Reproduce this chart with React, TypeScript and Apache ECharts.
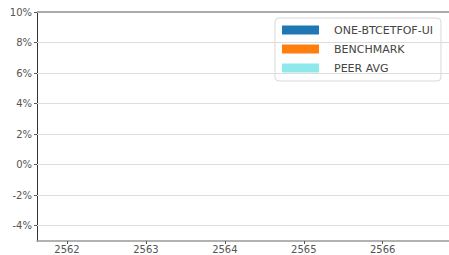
import React, { useEffect, useRef } from "react";
import * as echarts from "echarts";

const seriesNames = ["ONE-BTCETFOF-UI", "BENCHMARK", "PEER AVG"];
const seriesColors = ["#1f77b4", "#ff7f0e", "#8fe9ea"];
const xTicks = [2562, 2563, 2564, 2565, 2566];
const xMin = 2561.62;
const xMax = 2566.84;
const yTicks = [-4, -2, 0, 2, 4, 6, 8, 10];
const yMin = -5;
const yMax = 10;

export default function App() {
  const ref = useRef<HTMLDivElement>(null);
  useEffect(() => {
    document.body.style.margin = "0";
    const chart = echarts.init(ref.current!, undefined, { renderer: "svg" });
    chart.setOption({
      animation: false,
      backgroundColor: "#ffffff",
      grid: { left: 37, top: 12, right: 0, bottom: 14, containLabel: false },
      legend: {
        left: 275,
        top: 18,
        orient: "vertical",
        icon: "rect",
        itemWidth: 37,
        itemHeight: 9,
        itemGap: 7,
        padding: [6, 8, 7, 7],
        borderColor: "#d8d8d8",
        borderWidth: 1,
        borderRadius: 4,
        backgroundColor: "#ffffff",
        textStyle: {
          fontFamily: "DejaVu Sans",
          fontSize: 11,
          color: "#444",
          padding: [0, 0, 0, 10],
          lineHeight: 12,
        },
        data: seriesNames,
      },
      xAxis: {
        type: "value",
        min: xMin,
        max: xMax,
        axisLine: { show: true, onZero: false, lineStyle: { color: "#999", width: 1.5 } },
        axisTick: {
          show: true,
          length: 3,
          customValues: xTicks,
          lineStyle: { color: "#555" },
        },
        axisLabel: {
          customValues: xTicks,
          fontFamily: "DejaVu Sans",
          fontSize: 10,
          color: "#555",
          margin: 3,
          formatter: (v: number) => String(Math.round(v)),
        },
        splitLine: { show: false },
      },
      yAxis: {
        type: "value",
        min: yMin,
        max: yMax,
        axisLine: { show: true, onZero: false, lineStyle: { color: "#333", width: 1 } },
        axisTick: {
          show: true,
          length: 3,
          customValues: yTicks,
          lineStyle: { color: "#555" },
        },
        axisLabel: {
          customValues: yTicks,
          fontFamily: "DejaVu Sans",
          fontSize: 10,
          color: "#555",
          margin: 5,
          formatter: (v: number) => `${v}%`,
        },
        splitLine: { show: false },
      },
      series: [
        ...seriesNames.map((name, i) => ({
          name,
          type: "bar",
          data: [],
          itemStyle: { color: seriesColors[i] },
        })),
        {
          type: "line",
          data: [],
          silent: true,
          z: 0,
          markLine: {
            silent: true,
            symbol: "none",
            label: { show: false },
            data: yTicks.map((v) => ({
              yAxis: v,
              lineStyle: {
                color: v === yMax ? "#aaaaaa" : "#dddddd",
                width: v === yMax ? 2 : 1,
                type: "solid",
              },
            })),
          },
        },
      ],
    });
    return () => chart.dispose();
  }, []);
  return <div ref={ref} style={{ width: 449, height: 255 }} />;
}
